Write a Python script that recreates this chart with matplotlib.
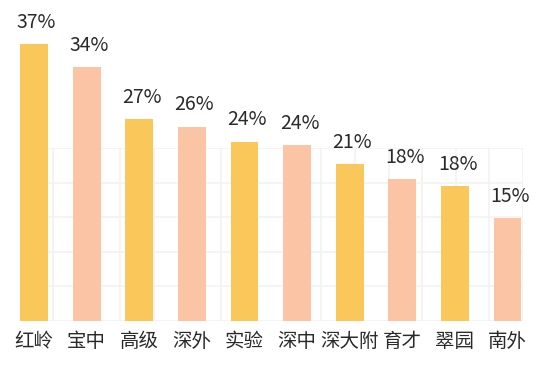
import matplotlib
matplotlib.use("Agg")
import matplotlib.pyplot as plt
import numpy as np

plt.rcParams["font.family"] = ["Noto Sans CJK SC", "DejaVu Sans"]

schools = ["红岭", "宝中", "高级", "深外", "实验", "深中", "深大附", "育才", "翠园", "南外"]
# bar heights as drawn in the picture (the printed labels are rounded)
heights = [37, 34, 27, 26, 24, 23.5, 21, 19, 18, 13.8]
labels = ["37%", "34%", "27%", "26%", "24%", "24%", "21%", "18%", "18%", "15%"]

YELLOW = "#FAC85A"
PEACH = "#FAC4A5"
colors = [YELLOW if i % 2 == 0 else PEACH for i in range(len(schools))]

W, H = 547, 377
fig = plt.figure(figsize=(W / 100, H / 100), dpi=100)

# faint background grid (sits behind the bars)
bg = fig.add_axes([43 / W, (H - 321) / H, (523 - 43) / W, (321 - 148) / H])
bg.set_xlim(-0.29, 14)
bg.set_ylim(0, 5)
bg.set_xticks(np.arange(0, 15))
bg.set_yticks(np.arange(0, 6))
bg.grid(True, color="#f2f2f2", lw=1.2)
bg.tick_params(length=0, labelbottom=False, labelleft=False)
for s in bg.spines.values():
    s.set_visible(False)
bg.set_zorder(0)

ax = fig.add_axes([7.7 / W, (H - 321) / H, 526.1 / W, 299 / H])
ax.patch.set_alpha(0)
ax.set_zorder(1)
x = np.arange(len(schools))
ax.bar(x, heights, width=0.53, color=colors)
for xi, h, lab in zip(x, heights, labels):
    ax.text(xi + 0.05, h + 1.5, lab, ha="center", va="bottom",
            fontsize=14, color="#2a2a2a")

ax.set_xlim(-0.5, len(schools) - 0.5)
ax.set_ylim(0, 40)
ax.set_xticks(x)
ax.set_xticklabels(schools, fontsize=14, color="#2a2a2a")
ax.tick_params(axis="x", length=0, pad=7)
ax.set_yticks([])
for s in ax.spines.values():
    s.set_visible(False)

fig.savefig("out.png", dpi=100)
